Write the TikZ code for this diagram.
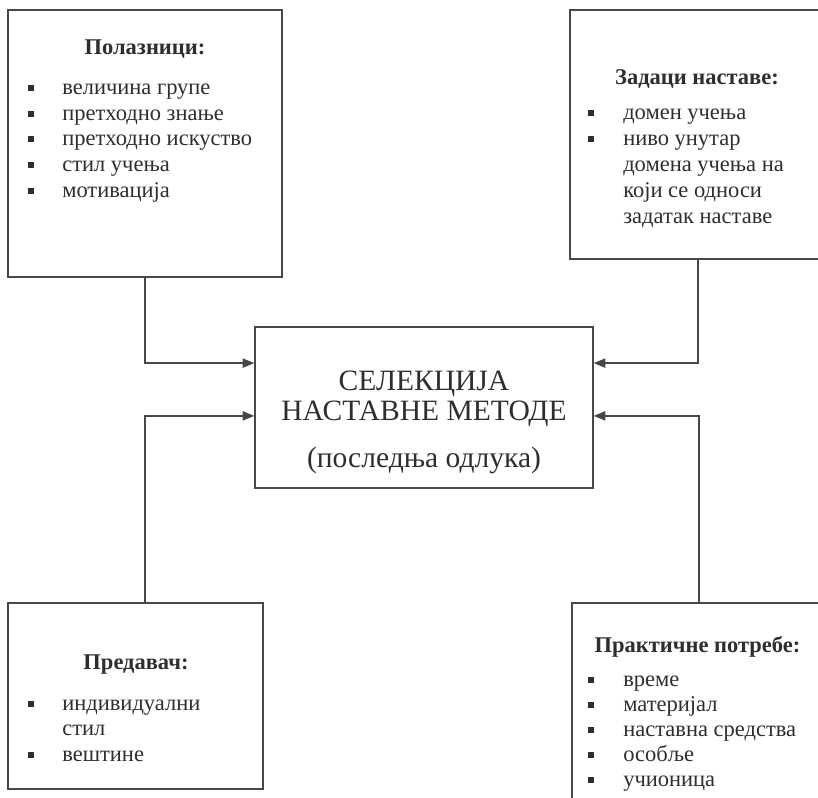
\documentclass[tikz,border=0pt]{standalone}
\usepackage{fontspec}
\setmainfont{Liberation Serif}
\usetikzlibrary{positioning, arrows.meta, fit}
\colorlet{ink}{black!82}
\colorlet{rule}{black!72}
\tikzset{
  frame/.style ={draw=rule, line width=1pt, inner sep=0pt},
  head/.style  ={font=\fontsize{16}{19}\selectfont\bfseries, text=ink,
                 anchor=base, inner sep=0pt},
  item/.style  ={font=\fontsize{16}{19}\selectfont, text=ink,
                 anchor=base west, inner sep=0pt},
  bul/.style   ={fill=ink, inner sep=0pt, minimum size=1.35mm,
                 anchor=south west},
  core/.style  ={font=\fontsize{21}{25}\selectfont, text=ink,
                 anchor=base, inner sep=0pt},
  feed/.style  ={-{Triangle[length=2.9mm, width=2.3mm]}, rule, line width=1pt},
}

\begin{document}
\begin{tikzpicture}[x=0.025cm, y=-0.025cm]
\useasboundingbox (0,0) rectangle (818,798);

% frames
\node[frame, fit={(8,10) (282,277)}]    (pol)  {};
\node[frame, fit={(570,10) (826,259)}]  (zad)  {};
\node[frame, fit={(255,327) (593,488)}] (sel)  {};
\node[frame, fit={(8,603) (263,789)}]   (pre)  {};
\node[frame, fit={(572,603) (826,812)}] (prak) {};

% centre
\node[core] (sel1) at (424,390) {СЕЛЕКЦИЈА};
\node[core] (sel2) at (424,420) {НАСТАВНЕ МЕТОДЕ};
\node[core] (sel3) at (424,467) {(последња одлука)};

% Polaznici
\node[head] (polh) at (145,54) {Полазници:};
\foreach \y/\b/\t [count=\i] in {94/1/величина групе, 120/1/претходно знање,
                                  145/1/претходно искуство, 171/1/стил учења,
                                  197/1/мотивација} {
  \node[item] (pol\i) at (62,\y) {\t};
  \ifnum\b=1 \node[bul] (polb\i) at (28,\y-3.2) {}; \fi
}

% Zadaci nastave
\node[head] (zadh) at (697,84) {Задаци наставе:};
\foreach \y/\b/\t [count=\i] in {119/1/домен учења, 145/1/ниво унутар,
                                  171/0/домена учења на, 197/0/који се односи,
                                  223/0/задатак наставе} {
  \node[item] (zad\i) at (623,\y) {\t};
  \ifnum\b=1 \node[bul] (zadb\i) at (588,\y-3.2) {}; \fi
}

% Predavac
\node[head] (preh) at (136,669) {Предавач:};
\foreach \y/\b/\t [count=\i] in {710/1/индивидуални, 735/0/стил,
                                  761/1/вештине} {
  \node[item] (pre\i) at (62,\y) {\t};
  \ifnum\b=1 \node[bul] (preb\i) at (28,\y-3.2) {}; \fi
}

% Prakticne potrebe
\node[head] (prakh) at (697.5,652) {Практичне потребе:};
\foreach \y/\b/\t [count=\i] in {686/1/време, 711/1/материјал,
                                  736/1/наставна средства, 761/1/особље,
                                  786/1/учионица} {
  \node[item] (prak\i) at (623,\y) {\t};
  \ifnum\b=1 \node[bul] (prakb\i) at (588,\y-3.2) {}; \fi
}

% connectors
\draw[feed] (pol.south) |- ([yshift=1.11cm]sel.west);
\draw[feed] (zad.south) |- ([yshift=1.11cm]sel.east);
\draw[feed] (pol.south |- pre.north) |- ([yshift=-0.21cm]sel.west);
\draw[feed] (prak.north) |- ([yshift=-0.21cm]sel.east);

\end{tikzpicture}
\end{document}
